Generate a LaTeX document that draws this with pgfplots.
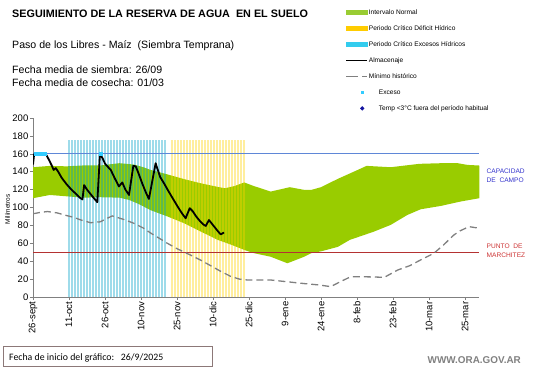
\documentclass[border=0pt]{standalone}
\usepackage{fontspec}
\setmainfont{Liberation Sans}
\newfontfamily\carlito{Carlito}
\usepackage{pgfplots}
\pgfplotsset{compat=1.18}
\definecolor{verde}{RGB}{153,204,0}
\definecolor{azulper}{RGB}{0,160,200}
\definecolor{amarper}{RGB}{255,210,0}
\definecolor{legcyan}{RGB}{51,204,238}
\definecolor{legyel}{RGB}{255,204,0}
\definecolor{legverde}{RGB}{153,204,51}
\definecolor{capblue}{RGB}{95,135,215}
\definecolor{marred}{RGB}{180,50,50}
\definecolor{capfont}{RGB}{51,51,204}
\definecolor{marfont}{RGB}{204,51,51}
\definecolor{exceso}{RGB}{51,204,255}
\definecolor{tempblue}{RGB}{20,20,160}
\definecolor{axgray}{RGB}{128,128,128}
\definecolor{boxcol}{RGB}{140,120,120}
\begin{document}
\begin{tikzpicture}[x=1pt,y=1pt]
\useasboundingbox (0,0) rectangle (541,368);
\begin{axis}[
  at={(33pt,71pt)}, anchor=south west,
  scale only axis, width=446.4pt, height=179pt,
  xmin=0, xmax=186, ymin=0, ymax=200,
  axis x line*=bottom, axis y line*=left,
  axis line style={-, draw=axgray, line width=0.8pt},
  xtick={0,15,30,45,60,75,90,105,120,135,150,165,180},
  xticklabels={26-sept,11-oct,26-oct,10-nov,25-nov,10-dic,25-dic,9-ene,24-ene,8-feb,23-feb,10-mar,25-mar},
  x tick label style={rotate=90, anchor=east, font=\fontsize{9.5}{10}\selectfont, inner sep=1.5pt},
  ytick={0,20,40,60,80,100,120,140,160,180,200},
  y tick label style={font=\fontsize{9.5}{10}\selectfont, inner sep=1.5pt},
  /pgf/number format/assume math mode=true,
  tick align=outside, major tick length=3pt,
  tick style={axgray, line width=0.6pt},
  ylabel={Milímetros},
  ylabel style={font=\fontsize{6.5}{7}\selectfont, at={(axis description cs:-0.057,0.49)}, anchor=center, rotate=0},
  legend cell align=left,
  legend style={at={(axis description cs:0.70,1.613)}, anchor=north west, draw=none, fill=none,
    font=\fontsize{6.6}{7}\selectfont, row sep=8.3pt, inner sep=0pt,
    nodes={inner sep=0.6pt, text height=5pt, text depth=1.5pt}},
]
% green band
\addplot[fill=verde, draw=none, forget plot] coordinates {
(0,145)(7,146.5)(14,146)(21,147)(28,147)(36,149.5)(42,148)(46,145)(49,142)(56,137)(63,131.7)(70,127)(77,123)(80,121.5)(84,124)(88,128)(92,124)(99,117.8)(107,122.7)(113,119.7)(116,119.7)(120,122.7)(127,132)(132,138)(139,146.5)(149,145)(161,148.8)(170,149.5)(177,149.5)(181,147.6)(186,146.9)
(186,110.4)(178,106.6)(170,101.8)(161.5,98)(156,91.7)(149,80.5)(142,73)(132,63.8)(127,56)(120,51)(116,49)(113,45)(106,37.7)(99,45)(92,49)(88,52.6)(83,58)(77,63.8)(70,73)(63,82.4)(56,90)(49,97)(44,104)(40,108.5)(36,111)(28,111.5)(21,111)(14,112.5)(7,114)(0,110.4)
} -- cycle;
% critical period excess (blue stripes)
\addplot[ycomb, draw=azulper, draw opacity=0.38, line width=1.9pt, forget plot] coordinates {
(15,175)(16.25,175)(17.5,175)(18.75,175)(20,175)(21.25,175)(22.5,175)(23.75,175)(25,175)(26.25,175)(27.5,175)(28.75,175)(30,175)(31.25,175)(32.5,175)(33.75,175)(35,175)(36.25,175)(37.5,175)(38.75,175)(40,175)(41.25,175)(42.5,175)(43.75,175)(45,175)(46.25,175)(47.5,175)(48.75,175)(50,175)(51.25,175)(52.5,175)(53.75,175)(55,175)};
% critical period deficit (yellow stripes)
\addplot[ycomb, draw=amarper, draw opacity=0.38, line width=1.9pt, forget plot] coordinates {
(58,175)(59.25,175)(60.5,175)(61.75,175)(63,175)(64.25,175)(65.5,175)(66.75,175)(68,175)(69.25,175)(70.5,175)(71.75,175)(73,175)(74.25,175)(75.5,175)(76.75,175)(78,175)(79.25,175)(80.5,175)(81.75,175)(83,175)(84.25,175)(85.5,175)(86.75,175)(88,175)};
% capacity and wilting lines
\addplot[draw=capblue, line width=0.75pt, forget plot] coordinates {(0,160)(186,160)};
\addplot[draw=marred, line width=0.75pt, forget plot] coordinates {(0,50)(186,50)};
% minimo historico
\addplot[draw=axgray, line width=1.3pt, dash pattern=on 7pt off 4pt, forget plot] coordinates {
(0,93)(3,94.5)(6,95.5)(10,94)(14,91)(17,89)(20,86)(24,83)(28,84)(31,88)(33,90.6)(35,89)(38,86.5)(42,82.4)(46,77)(49,71.5)(53,65)(56,60)(60,54)(65.5,47)(70,41)(74,35)(78,29)(82.4,23)(86,20)(89.4,19)(99,19)(106,17)(113,15)(119,13.5)(124,11.6)(128,17)(132.4,22.7)(140,22.5)(146.4,22)(152,30.2)(157,35)(161.5,41.4)(167,48.8)(171,58)(175.4,69.4)(178,74)(181.7,78.6)(186,76.8)};
% almacenaje
\addplot[draw=black, line width=1.8pt, line join=round, forget plot] coordinates {
(0,148)(0.5,160)(5.3,160)(6.5,154)(7.8,147)(8.6,142)(9.5,144)(10.5,140)(12,133)(14,126)(16,120)(18,115)(19.5,111)(20.6,109)(21.3,125)(22.5,120)(24,115)(25.5,110)(26.8,106)(27.9,160)(29,155)(30,149)(31,146)(32.4,142)(34,133)(35.8,123.5)(37.2,128)(38.5,120)(40,114)(41.8,146.5)(42.8,146)(44,138)(45.5,127)(47,117)(48.3,109.5)(51.1,149.5)(52,142)(53,134)(54.6,127)(56.5,118)(58.5,109)(60.5,100)(62.2,93)(63.6,88)(65.3,99.2)(66.5,96)(68,90)(69.5,85)(71,81)(72,79.4)(73.3,86)(74.5,82)(76,77)(77.2,73)(78.2,70)(79.6,72)};
% exceso
\addplot[only marks, mark=square*, mark size=1.5pt, color=exceso, forget plot] coordinates {(1,160)(2,160)(3,160)(4,160)(5,160)(28,160)};
% legend
\addlegendimage{legend image code/.code={\fill[legverde] (0pt,-2pt) rectangle (21pt,2pt);}}
\addlegendentry{Intervalo Normal}
\addlegendimage{legend image code/.code={\fill[legyel] (0pt,-2pt) rectangle (21pt,2pt);}}
\addlegendentry{Periodo Crítico Déficit Hídrico}
\addlegendimage{legend image code/.code={\fill[legcyan] (0pt,-2pt) rectangle (21pt,2pt);}}
\addlegendentry{Periodo Crítico Excesos Hídricos}
\addlegendimage{legend image code/.code={\draw[black, line width=1.6pt] (0pt,0pt) -- (21pt,0pt);}}
\addlegendentry{Almacenaje}
\addlegendimage{legend image code/.code={\draw[axgray, line width=1.3pt] (0pt,0pt) -- (12pt,0pt) (16pt,0pt) -- (21pt,0pt);}}
\addlegendentry{Mínimo histórico}
\addlegendimage{legend image code/.code={\path[draw=none, fill=none] (0pt,0pt) -- (21pt,0pt); \fill[exceso, draw=none] (14.5pt,-1.3pt) rectangle (17.1pt,1.3pt);}}
\addlegendentry{\hspace{10pt}Exceso}
\addlegendimage{legend image code/.code={\path[draw=none, fill=none] (0pt,0pt) -- (21pt,0pt); \fill[tempblue, draw=none] (15.8pt,2.3pt) -- (18pt,0pt) -- (15.8pt,-2.3pt) -- (13.6pt,0pt) -- cycle;}}
\addlegendentry{\hspace{10pt}Temp <3°C fuera del período habitual}
\end{axis}
% titles and texts
\node[anchor=base west, inner sep=0pt, font=\bfseries\fontsize{10.8}{12}\selectfont] at (12,351) {SEGUIMIENTO DE LA RESERVA DE AGUA\ \ EN EL SUELO};
\node[anchor=base west, inner sep=0pt, font=\fontsize{10.6}{12}\selectfont] at (12,320) {Paso de los Libres - Maíz\ \ (Siembra Temprana)};
\node[anchor=base west, inner sep=0pt, font=\fontsize{10.6}{12}\selectfont] at (12,295) {Fecha media de siembra: 26/09};
\node[anchor=base west, inner sep=0pt, font=\fontsize{10.6}{12}\selectfont] at (12,281.5) {Fecha media de cosecha: 01/03};
% side labels
\node[anchor=west, inner sep=0pt, align=left, text=capfont, font=\fontsize{6.6}{8.8}\selectfont] at (486.5,192.5) {CAPACIDAD\\DE\ \ CAMPO};
\node[anchor=west, inner sep=0pt, align=left, text=marfont, font=\fontsize{6.6}{8.8}\selectfont] at (486.5,117) {PUNTO\ \ DE\\MARCHITEZ};
% bottom box
\draw[boxcol, line width=0.8pt] (3.5,2) rectangle (212,22);
\node[anchor=base west, inner sep=0pt, font=\carlito\fontsize{9.8}{11}\selectfont] at (9,8) {Fecha de inicio del gráfico:\ \ \ 26/9/2025};
\node[anchor=base east, inner sep=0pt, text=axgray, font=\bfseries\fontsize{9.9}{10}\selectfont] at (521,4.5) {WWW.ORA.GOV.AR};
\end{tikzpicture}
\end{document}
